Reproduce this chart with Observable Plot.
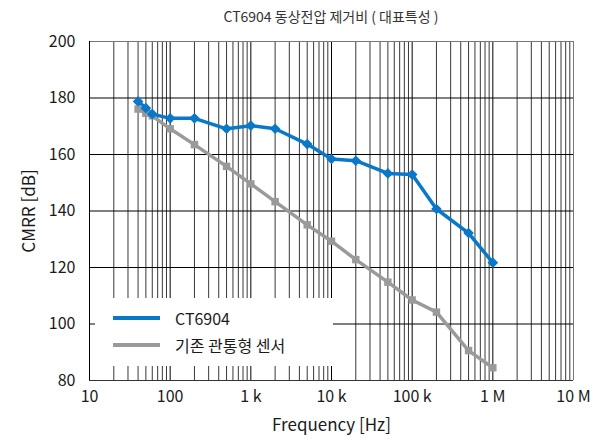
<!DOCTYPE html>
<html>
<head>
<meta charset="utf-8">
<script src="https://cdn.jsdelivr.net/npm/d3@7"></script>
<script src="https://cdn.jsdelivr.net/npm/@observablehq/plot@0.6"></script>
<style>
  body { margin: 0; background: #fff; font-family: "Noto Sans CJK KR", "Noto Sans", sans-serif; }
  #wrap { position: relative; width: 595px; height: 439px; }
  #title { height: 22px; box-sizing: border-box; padding: 7px 22px 0 89px; text-align: center; font-size: 14px; color: #333; line-height: 18px; overflow: visible; white-space: nowrap; }
  #legend { position: absolute; left: 95px; top: 298px; width: 238px; height: 68px; background: #fff; font-size: 16px; color: #1a1a1a; }
  .item { position: absolute; left: 18px; height: 20px; display: flex; align-items: center; }
  .sw { width: 47px; height: 4px; margin-right: 15px; }
</style>
</head>
<body>
<div id="wrap">
  <div id="title">CT6904 동상전압 제거비 ( 대표특성 )</div>
  <div id="chart"></div>
  <div id="legend"></div>
</div>
<script>
const seriesNames = ["CT6904", "기존 관통형 센서"];
const seriesColors = ["#0a78c8", "#9a9a9a"];
const freqs = [40, 50, 60, 100, 200, 500, 1e3, 2e3, 5e3, 1e4, 2e4, 5e4, 1e5, 2e5, 5e5, 1e6];
const ct6904 = [178.8, 176.4, 174.3, 172.8, 172.8, 169.1, 170.2, 169.1, 163.7, 158.4, 157.8, 153.3, 152.9, 140.7, 132.2, 121.7];
const conventional = [176.1, 174.6, 173.7, 169.1, 163.5, 155.8, 149.6, 143.3, 135.1, 129.3, 122.8, 114.8, 108.5, 104.2, 90.6, 84.5];
const xTicks = [10, 100, 1e3, 1e4, 1e5, 1e6, 1e7];
const xTickLabels = ["10", "100", "1 k", "10 k", "100 k", "1 M", "10 M"];
const yTicks = [80, 100, 120, 140, 160, 180, 200];

const data = [
  ...freqs.map((f, i) => ({f, v: ct6904[i], s: seriesNames[0]})),
  ...freqs.map((f, i) => ({f, v: conventional[i], s: seriesNames[1]}))
];
const minor = [];
for (let d = 10; d < 1e7; d *= 10) for (let m = 2; m <= 9; m++) minor.push(d * m);

const chart = Plot.plot({
  width: 595,
  height: 417,
  marginLeft: 89,
  marginRight: 22,
  marginTop: 19,
  marginBottom: 59,
  style: {fontFamily: '"Noto Sans CJK KR", "Noto Sans", sans-serif', fontSize: "16px", color: "#1a1a1a", background: "transparent", overflow: "visible"},
  x: {type: "log", domain: [10, 1e7]},
  y: {domain: [80, 200]},
  color: {domain: seriesNames, range: seriesColors},
  marks: [
    Plot.ruleX(minor, {stroke: "#383838", strokeWidth: 1}),
    Plot.ruleX(xTicks.slice(0, -1), {stroke: "#000", strokeWidth: 1}),
    Plot.ruleX([1e7], {stroke: "#777", strokeWidth: 1}),
    Plot.ruleY(yTicks.slice(1, -1), {stroke: "#000", strokeWidth: 1}),
    Plot.ruleY([200], {stroke: "#777", strokeWidth: 1}),
    Plot.ruleY([80], {stroke: "#333", strokeWidth: 1}),
    Plot.ruleX([10], {stroke: "#000", strokeWidth: 1}),
    Plot.line(data, {x: "f", y: "v", z: "s", stroke: "s", strokeWidth: 3.5}),
    Plot.dot(data.filter(d => d.s === seriesNames[1]), {x: "f", y: "v", symbol: "square", r: 4.2, fill: seriesColors[1], stroke: "none"}),
    Plot.dot(data.filter(d => d.s === seriesNames[0]), {x: "f", y: "v", symbol: "diamond2", r: 4.8, fill: seriesColors[0], stroke: "none"}),
    Plot.axisX(xTicks, {tickSize: 0, tickPadding: 10, fontSize: 16, tickFormat: (d) => xTickLabels[xTicks.indexOf(d)], label: null}),
    Plot.axisX({label: "Frequency [Hz]", labelAnchor: "center", labelOffset: 50, labelArrow: "none", ticks: [], fontSize: 17}),
    Plot.axisY(yTicks, {tickSize: 0, tickPadding: 14, fontSize: 16, label: null}),
    Plot.axisY({label: "CMRR [dB]", labelAnchor: "center", labelOffset: 67, labelArrow: "none", ticks: [], fontSize: 17})
  ]
});
document.getElementById("chart").appendChild(chart);

const legend = document.getElementById("legend");
seriesNames.forEach((n, i) => {
  const it = document.createElement("div");
  it.className = "item";
  it.style.top = (10 + i * 27) + "px";
  const sw = document.createElement("div");
  sw.className = "sw";
  sw.style.background = seriesColors[i];
  it.appendChild(sw);
  const t = document.createElement("span");
  t.textContent = n;
  it.appendChild(t);
  legend.appendChild(it);
});
</script>
</body>
</html>
